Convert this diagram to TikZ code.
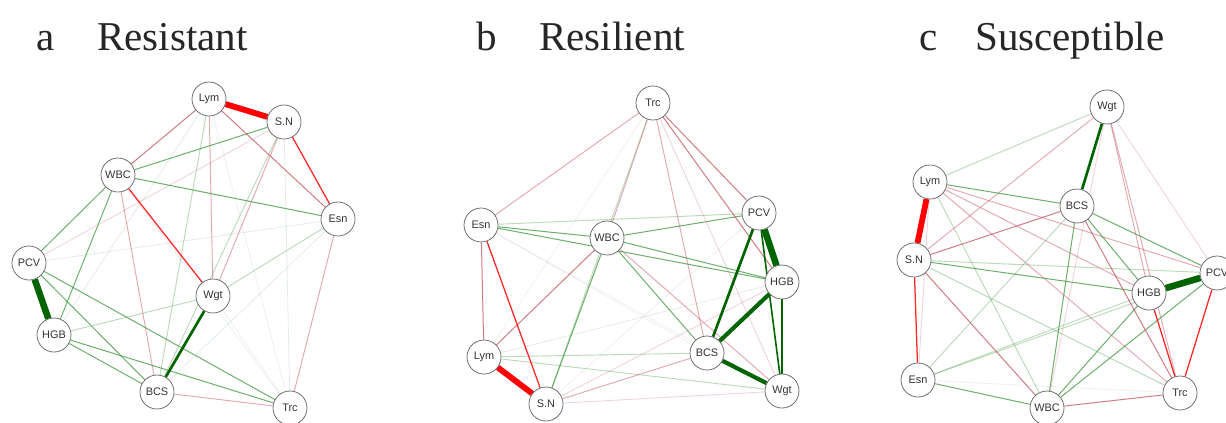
\documentclass[tikz,border=0pt]{standalone}
\usepackage{fontspec}
\setmainfont{Liberation Serif}
\newfontfamily\lab{Liberation Sans}
\pgfdeclarelayer{bg}
\pgfsetlayers{bg,main}
\definecolor{dg}{RGB}{0,100,0}
\definecolor{rr}{RGB}{255,0,0}
\definecolor{rmc}{RGB}{190,70,80}
\definecolor{pk}{RGB}{210,110,120}
\definecolor{lg}{RGB}{60,150,60}
\tikzset{
 nd/.style={circle, draw=black!60, fill=white, line width=0.55pt, minimum size=25.5pt, inner sep=0pt, font=\lab\fontsize{8.2}{9}\selectfont, text=black!80},
 ttl/.style={anchor=base west, inner sep=0pt, font=\fontsize{30.75}{32}\selectfont, text=black!85},
 Rk/.style={draw=rr, line width=4.4pt},
 Gk/.style={draw=dg, line width=4.9pt},
 G3/.style={draw=dg, line width=3.1pt},
 G2/.style={draw=dg, line width=2pt},
 G1/.style={draw=dg, line width=1.2pt},
 R1/.style={draw=rr, line width=0.95pt, draw opacity=.85},
 rm/.style={draw=rmc, line width=0.75pt, draw opacity=.7},
 gm/.style={draw=lg, line width=0.75pt, draw opacity=.75},
 gl/.style={draw=lg, line width=0.7pt, draw opacity=.35},
 pm/.style={draw=pk, line width=0.7pt, draw opacity=.6},
 pl/.style={draw=pk, line width=0.65pt, draw opacity=.3},
 vl/.style={draw=black!40, line width=0.6pt, draw opacity=.15},
 vg/.style={draw=lg, line width=0.6pt, draw opacity=.15},
}
\newcommand\edg[3]{\draw[#1] (#2) -- (#3);}
\begin{document}
\begin{tikzpicture}[x=0.75pt,y=-0.75pt]
\useasboundingbox (0,0) rectangle (1226,422);
% titles
\node[ttl] (ta) at (36,50) {a};
\node[ttl] (tA) at (97,50) {Resistant};
\node[ttl] (tb) at (476,50) {b};
\node[ttl] (tB) at (539,50) {Resilient};
\node[ttl] (tc) at (919,50) {c};
\node[ttl] (tC) at (975,50) {Susceptible};
% panel a nodes
\node[nd] (aLym) at (209,99) {Lym};
\node[nd] (aSN) at (284,122) {S.N};
\node[nd] (aWBC) at (118,175) {WBC};
\node[nd] (aEsn) at (338,219) {Esn};
\node[nd] (aPCV) at (29,263) {PCV};
\node[nd] (aWgt) at (213,296) {Wgt};
\node[nd] (aHGB) at (54,335) {HGB};
\node[nd] (aBCS) at (157,392) {BCS};
\node[nd] (aTrc) at (290,408) {Trc};
% panel b nodes
\node[nd] (bTrc) at (653,103) {Trc};
\node[nd] (bPCV) at (759,213) {PCV};
\node[nd] (bEsn) at (481,225) {Esn};
\node[nd] (bWBC) at (607,238) {WBC};
\node[nd] (bHGB) at (782,282) {HGB};
\node[nd] (bBCS) at (707,353) {BCS};
\node[nd] (bLym) at (484,357) {Lym};
\node[nd] (bWgt) at (782,391) {Wgt};
\node[nd] (bSN) at (546,404) {S.N};
% panel c nodes
\node[nd] (cWgt) at (1107,107) {Wgt};
\node[nd] (cLym) at (930,182) {Lym};
\node[nd] (cBCS) at (1077,206) {BCS};
\node[nd] (cSN) at (914,260) {S.N};
\node[nd] (cPCV) at (1217,273) {PCV};
\node[nd] (cHGB) at (1149,293) {HGB};
\node[nd] (cEsn) at (918,380) {Esn};
\node[nd] (cTrc) at (1180,393) {Trc};
\node[nd] (cWBC) at (1047,408) {WBC};
\begin{pgfonlayer}{bg}
\fill[white] (0,0) rectangle (1226,422);
% ---- panel a edges
\edg{vl}{aLym}{aTrc}
\edg{vl}{aWBC}{aTrc}
\edg{vl}{aWgt}{aTrc}
\edg{vg}{aPCV}{aEsn}
\edg{vg}{aBCS}{aEsn}
\edg{vg}{aSN}{aTrc}
\edg{vg}{aHGB}{aLym}
\edg{gl}{aLym}{aBCS}
\edg{gl}{aHGB}{aWgt}
\edg{gl}{aEsn}{aWgt}
\edg{gl}{aSN}{aBCS}
\edg{pl}{aPCV}{aSN}
\edg{pm}{aWBC}{aBCS}
\edg{pm}{aLym}{aWgt}
\edg{pm}{aSN}{aWgt}
\edg{pm}{aEsn}{aTrc}
\edg{pm}{aBCS}{aTrc}
\edg{gm}{aWBC}{aSN}
\edg{gm}{aWBC}{aEsn}
\edg{gm}{aWBC}{aPCV}
\edg{gm}{aWBC}{aHGB}
\edg{gm}{aPCV}{aBCS}
\edg{gm}{aPCV}{aTrc}
\edg{gm}{aHGB}{aBCS}
\edg{gm}{aHGB}{aTrc}
\edg{rm}{aLym}{aEsn}
\edg{rm}{aLym}{aWBC}
\edg{R1}{aSN}{aEsn}
\edg{R1}{aWBC}{aWgt}
\edg{G2}{aWgt}{aBCS}
\edg{Rk}{aLym}{aSN}
\edg{Gk}{aPCV}{aHGB}
% ---- panel b edges
\edg{vl}{bTrc}{bLym}
\edg{vl}{bEsn}{bBCS}
\edg{vl}{bEsn}{bWgt}
\edg{vl}{bSN}{bPCV}
\edg{vg}{bLym}{bHGB}
\edg{pl}{bTrc}{bWgt}
\edg{pl}{bSN}{bHGB}
\edg{pl}{bSN}{bWgt}
\edg{gl}{bLym}{bBCS}
\edg{gl}{bLym}{bWgt}
\edg{gl}{bEsn}{bPCV}
\edg{gl}{bTrc}{bSN}
\edg{pm}{bTrc}{bEsn}
\edg{pm}{bTrc}{bWBC}
\edg{pm}{bTrc}{bBCS}
\edg{pm}{bWBC}{bWgt}
\edg{pm}{bSN}{bBCS}
\edg{gm}{bEsn}{bWBC}
\edg{gm}{bEsn}{bHGB}
\edg{gm}{bWBC}{bPCV}
\edg{gm}{bWBC}{bHGB}
\edg{gm}{bWBC}{bBCS}
\edg{gm}{bWBC}{bSN}
\edg{rm}{bEsn}{bLym}
\edg{rm}{bLym}{bWBC}
\edg{rm}{bTrc}{bPCV}
\edg{rm}{bTrc}{bHGB}
\edg{R1}{bEsn}{bSN}
\edg{G1}{bPCV}{bWgt}
\edg{G2}{bPCV}{bBCS}
\edg{G2}{bHGB}{bWgt}
\edg{G3}{bHGB}{bBCS}
\edg{G3}{bBCS}{bWgt}
\edg{Rk}{bLym}{bSN}
\edg{Gk}{bPCV}{bHGB}
% ---- panel c edges
\edg{vl}{cEsn}{cTrc}
\edg{pl}{cWgt}{cWBC}
\edg{pl}{cWgt}{cPCV}
\edg{pl}{cLym}{cEsn}
\edg{gl}{cWgt}{cLym}
\edg{gl}{cLym}{cWBC}
\edg{gl}{cBCS}{cEsn}
\edg{gl}{cSN}{cPCV}
\edg{gl}{cSN}{cTrc}
\edg{gl}{cHGB}{cEsn}
\edg{gl}{cPCV}{cEsn}
\edg{pm}{cWgt}{cSN}
\edg{pm}{cLym}{cPCV}
\edg{pm}{cLym}{cHGB}
\edg{pm}{cLym}{cTrc}
\edg{pm}{cWgt}{cHGB}
\edg{pm}{cWgt}{cTrc}
\edg{gm}{cLym}{cBCS}
\edg{gm}{cBCS}{cPCV}
\edg{gm}{cBCS}{cHGB}
\edg{gm}{cBCS}{cWBC}
\edg{gm}{cSN}{cHGB}
\edg{gm}{cHGB}{cWBC}
\edg{gm}{cPCV}{cWBC}
\edg{gm}{cEsn}{cWBC}
\edg{rm}{cBCS}{cSN}
\edg{rm}{cBCS}{cTrc}
\edg{rm}{cSN}{cWBC}
\edg{rm}{cWBC}{cTrc}
\edg{R1}{cSN}{cEsn}
\edg{R1}{cPCV}{cTrc}
\edg{R1}{cHGB}{cTrc}
\edg{G2}{cWgt}{cBCS}
\edg{Rk}{cLym}{cSN}
\edg{Gk}{cHGB}{cPCV}
\end{pgfonlayer}
\end{tikzpicture}
\end{document}
